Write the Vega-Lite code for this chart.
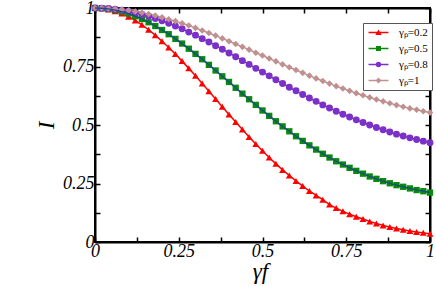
{
  "$schema": "https://vega.github.io/schema/vega-lite/v6.json",
  "width": 335,
  "height": 234,
  "autosize": {"type": "none"},
  "padding": {"left": 95, "top": 8, "right": 6, "bottom": 45},
  "background": "white",
  "config": {
    "view": {"stroke": "#000000", "strokeWidth": 2},
    "axis": {
      "grid": false,
      "zindex": 1,
      "domainColor": "#000000",
      "domainWidth": 2,
      "tickColor": "#000000",
      "tickWidth": 1.5,
      "labelFont": "Liberation Serif",
      "labelFontStyle": "italic",
      "labelFontSize": 18,
      "labelColor": "black",
      "titleFont": "Liberation Serif",
      "titleFontStyle": "italic",
      "titleFontWeight": "normal",
      "titleColor": "black"
    }
  },
  "data": {
    "values": [
      {"x": 0.00, "a": 1.000, "b": 1.000, "c": 1.000, "d": 1.000},
      {"x": 0.02, "a": 0.999, "b": 0.999, "c": 0.999, "d": 1.000},
      {"x": 0.04, "a": 0.994, "b": 0.996, "c": 0.998, "d": 0.998},
      {"x": 0.06, "a": 0.986, "b": 0.991, "c": 0.995, "d": 0.996},
      {"x": 0.08, "a": 0.976, "b": 0.984, "c": 0.991, "d": 0.993},
      {"x": 0.10, "a": 0.963, "b": 0.976, "c": 0.986, "d": 0.990},
      {"x": 0.12, "a": 0.947, "b": 0.965, "c": 0.980, "d": 0.985},
      {"x": 0.14, "a": 0.928, "b": 0.953, "c": 0.973, "d": 0.980},
      {"x": 0.16, "a": 0.907, "b": 0.939, "c": 0.965, "d": 0.974},
      {"x": 0.18, "a": 0.884, "b": 0.923, "c": 0.955, "d": 0.968},
      {"x": 0.20, "a": 0.858, "b": 0.906, "c": 0.945, "d": 0.960},
      {"x": 0.22, "a": 0.831, "b": 0.888, "c": 0.935, "d": 0.952},
      {"x": 0.24, "a": 0.803, "b": 0.868, "c": 0.923, "d": 0.944},
      {"x": 0.26, "a": 0.773, "b": 0.848, "c": 0.911, "d": 0.935},
      {"x": 0.28, "a": 0.742, "b": 0.826, "c": 0.897, "d": 0.925},
      {"x": 0.30, "a": 0.710, "b": 0.804, "c": 0.884, "d": 0.915},
      {"x": 0.32, "a": 0.677, "b": 0.781, "c": 0.869, "d": 0.904},
      {"x": 0.34, "a": 0.644, "b": 0.757, "c": 0.855, "d": 0.893},
      {"x": 0.36, "a": 0.611, "b": 0.733, "c": 0.839, "d": 0.882},
      {"x": 0.38, "a": 0.578, "b": 0.708, "c": 0.824, "d": 0.870},
      {"x": 0.40, "a": 0.545, "b": 0.684, "c": 0.808, "d": 0.858},
      {"x": 0.42, "a": 0.513, "b": 0.659, "c": 0.792, "d": 0.846},
      {"x": 0.44, "a": 0.481, "b": 0.634, "c": 0.775, "d": 0.834},
      {"x": 0.46, "a": 0.449, "b": 0.610, "c": 0.759, "d": 0.822},
      {"x": 0.48, "a": 0.419, "b": 0.586, "c": 0.742, "d": 0.809},
      {"x": 0.50, "a": 0.390, "b": 0.562, "c": 0.726, "d": 0.797},
      {"x": 0.52, "a": 0.361, "b": 0.539, "c": 0.710, "d": 0.784},
      {"x": 0.54, "a": 0.334, "b": 0.516, "c": 0.693, "d": 0.772},
      {"x": 0.56, "a": 0.308, "b": 0.494, "c": 0.677, "d": 0.759},
      {"x": 0.58, "a": 0.284, "b": 0.473, "c": 0.661, "d": 0.747},
      {"x": 0.60, "a": 0.261, "b": 0.452, "c": 0.646, "d": 0.735},
      {"x": 0.62, "a": 0.239, "b": 0.432, "c": 0.630, "d": 0.723},
      {"x": 0.64, "a": 0.218, "b": 0.413, "c": 0.615, "d": 0.711},
      {"x": 0.66, "a": 0.199, "b": 0.395, "c": 0.601, "d": 0.699},
      {"x": 0.68, "a": 0.181, "b": 0.377, "c": 0.586, "d": 0.688},
      {"x": 0.70, "a": 0.160, "b": 0.361, "c": 0.573, "d": 0.677},
      {"x": 0.72, "a": 0.145, "b": 0.345, "c": 0.559, "d": 0.666},
      {"x": 0.74, "a": 0.131, "b": 0.331, "c": 0.546, "d": 0.656},
      {"x": 0.76, "a": 0.119, "b": 0.317, "c": 0.534, "d": 0.646},
      {"x": 0.78, "a": 0.108, "b": 0.304, "c": 0.522, "d": 0.636},
      {"x": 0.80, "a": 0.098, "b": 0.292, "c": 0.511, "d": 0.627},
      {"x": 0.82, "a": 0.088, "b": 0.280, "c": 0.500, "d": 0.618},
      {"x": 0.84, "a": 0.079, "b": 0.270, "c": 0.489, "d": 0.609},
      {"x": 0.86, "a": 0.071, "b": 0.260, "c": 0.480, "d": 0.601},
      {"x": 0.88, "a": 0.064, "b": 0.251, "c": 0.470, "d": 0.593},
      {"x": 0.90, "a": 0.058, "b": 0.243, "c": 0.461, "d": 0.585},
      {"x": 0.92, "a": 0.052, "b": 0.236, "c": 0.453, "d": 0.578},
      {"x": 0.94, "a": 0.047, "b": 0.229, "c": 0.445, "d": 0.571},
      {"x": 0.96, "a": 0.043, "b": 0.222, "c": 0.438, "d": 0.565},
      {"x": 0.98, "a": 0.039, "b": 0.217, "c": 0.431, "d": 0.559},
      {"x": 1.00, "a": 0.035, "b": 0.211, "c": 0.424, "d": 0.553}
    ]
  },
  "transform": [{"fold": ["a", "b", "c", "d"], "as": ["key", "val"]}],
  "layer": [
    {
      "transform": [{"filter": "datum.x > 2"}],
      "mark": {"type": "point", "filled": true, "size": 44, "opacity": 1},
      "encoding": {
        "x": {
          "field": "x", "type": "quantitative",
          "scale": {"domain": [0, 1], "nice": false},
          "axis": {
            "orient": "bottom",
            "values": [0, 0.125, 0.25, 0.375, 0.5, 0.625, 0.75, 0.875, 1],
            "labelExpr": "datum.value % 0.25 == 0 ? '' + datum.value : ''",
            "tickSize": -5,
            "labelPadding": 5,
            "labelFlush": false,
            "labelOverlap": false,
            "title": "γf",
            "titleFontSize": 23,
            "titleBaseline": "alphabetic",
            "titleY": 36,
            "titleX": 165
          }
        },
        "y": {
          "field": "val", "type": "quantitative",
          "scale": {"domain": [0, 1], "nice": false},
          "axis": {
            "orient": "left",
            "values": [0, 0.125, 0.25, 0.375, 0.5, 0.625, 0.75, 0.875, 1],
            "labelExpr": "datum.value % 0.25 == 0 ? '' + datum.value : ''",
            "tickSize": -5,
            "labelPadding": 6,
            "labelFlush": false,
            "labelOverlap": false,
            "title": "I",
            "titleFontSize": 23,
            "titleX": -37,
            "titleY": 117
          }
        },
        "color": {
          "field": "key", "type": "nominal",
          "scale": {"domain": ["a", "b", "c", "d"], "range": ["#ff0000", "#0a8a0a", "#7b30c8", "#c09090"]},
          "legend": {
            "orient": "none",
            "legendX": 268,
            "legendY": 15,
            "title": null,
            "padding": 4,
            "strokeColor": "#555",
            "fillColor": "white",
            "labelFont": "Liberation Serif",
            "labelFontSize": 11,
            "labelColor": "black",
            "labelOffset": 15,
            "symbolOffset": 6,
            "symbolSize": 44,
            "symbolStrokeWidth": 0,
            "rowPadding": 4,
            "labelExpr": "datum.label == 'a' ? 'γₚ=0.2' : datum.label == 'b' ? 'γₚ=0.5' : datum.label == 'c' ? 'γₚ=0.8' : 'γₚ=1'"
          }
        },
        "shape": {
          "field": "key", "type": "nominal",
          "scale": {"domain": ["a", "b", "c", "d"], "range": [
            "M-3,-0.22H3V0.22H-3Z M0,-0.9L0.95,0.75L-0.95,0.75Z",
            "M-3,-0.22H3V0.22H-3Z M-0.75,-0.75H0.75V0.75H-0.75Z",
            "M-3,-0.22H3V0.22H-3Z M0.85,0A0.85,0.85,0,1,1,-0.85,0A0.85,0.85,0,1,1,0.85,0Z",
            "M-3,-0.22H3V0.22H-3Z M0,-0.9L0.9,0L0,0.9L-0.9,0Z"
          ]}
        }
      }
    },
    {
      "mark": {"type": "line", "strokeWidth": 1.5},
      "encoding": {
        "x": {
          "field": "x", "type": "quantitative",
          "axis": {"orient": "top", "values": [0, 0.125, 0.25, 0.375, 0.5, 0.625, 0.75, 0.875, 1], "labels": false, "title": null, "tickSize": -5}
        },
        "y": {
          "field": "val", "type": "quantitative",
          "axis": {"orient": "right", "values": [0, 0.125, 0.25, 0.375, 0.5, 0.625, 0.75, 0.875, 1], "labels": false, "title": null, "tickSize": -5}
        },
        "color": {"field": "key", "type": "nominal"}
      }
    },
    {
      "transform": [{"filter": "datum.key == 'a'"}],
      "mark": {"type": "point", "filled": true, "size": 48, "opacity": 1, "shape": "triangle-up", "color": "#ff0000"},
      "encoding": {
        "x": {"field": "x", "type": "quantitative", "axis": null},
        "y": {"field": "val", "type": "quantitative", "axis": null}
      }
    },
    {
      "transform": [{"filter": "datum.key == 'b'"}],
      "mark": {"type": "point", "filled": true, "size": 40, "opacity": 1, "shape": "square", "color": "#0a8a0a"},
      "encoding": {
        "x": {"field": "x", "type": "quantitative", "axis": null},
        "y": {"field": "val", "type": "quantitative", "axis": null}
      }
    },
    {
      "transform": [{"filter": "datum.key == 'c'"}],
      "mark": {"type": "point", "filled": true, "size": 48, "opacity": 1, "shape": "circle", "color": "#7b30c8"},
      "encoding": {
        "x": {"field": "x", "type": "quantitative", "axis": null},
        "y": {"field": "val", "type": "quantitative", "axis": null}
      }
    },
    {
      "transform": [{"filter": "datum.key == 'd'"}],
      "mark": {"type": "point", "filled": true, "size": 44, "opacity": 1, "shape": "diamond", "color": "#c09090"},
      "encoding": {
        "x": {"field": "x", "type": "quantitative", "axis": null},
        "y": {"field": "val", "type": "quantitative", "axis": null}
      }
    },
    {
      "transform": [{"filter": "datum.key == 'b'"}],
      "mark": {"type": "line", "strokeWidth": 1.3, "color": "#1b4a8a"},
      "encoding": {
        "x": {"field": "x", "type": "quantitative", "axis": null},
        "y": {"field": "val", "type": "quantitative", "axis": null}
      }
    }
  ],
  "resolve": {"axis": {"x": "independent", "y": "independent"}}
}
